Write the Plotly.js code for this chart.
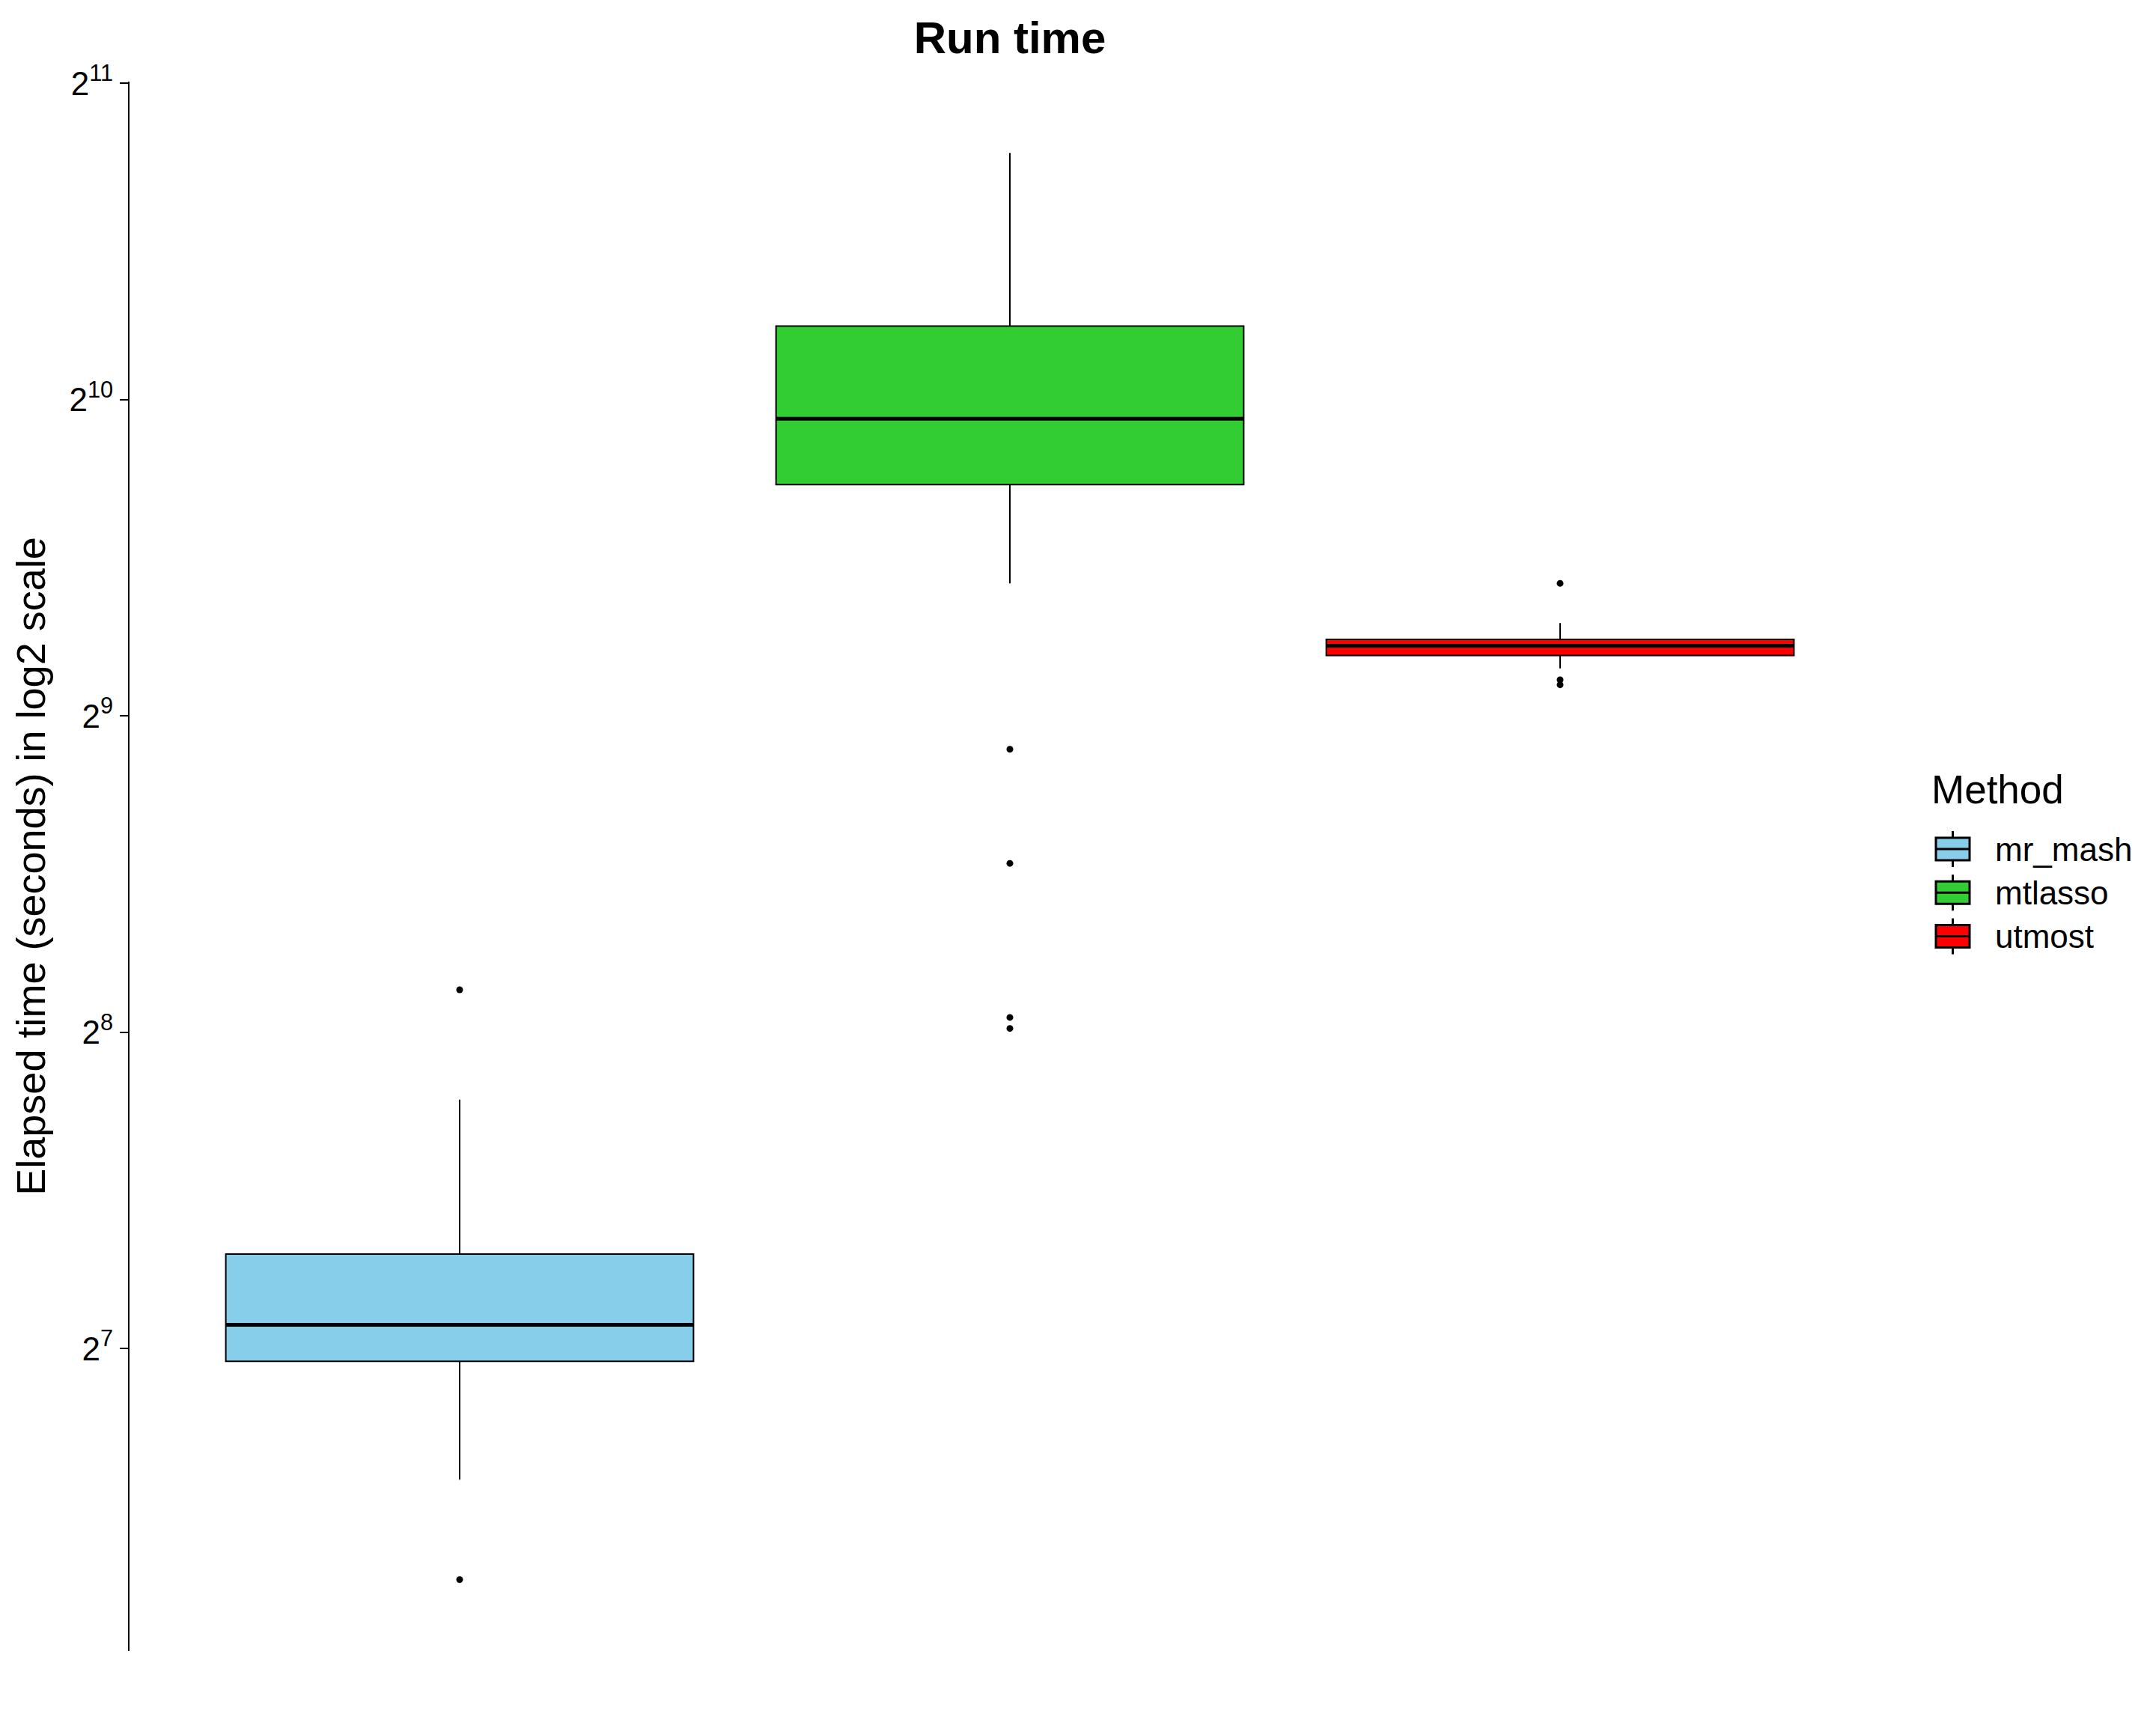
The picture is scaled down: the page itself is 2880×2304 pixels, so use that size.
<!DOCTYPE html>
<html>
<head>
<meta charset="utf-8">
<script src="https://cdn.plot.ly/plotly-3.0.1.min.js"></script>
<style>html,body{margin:0;padding:0;background:#fff;}</style>
</head>
<body>
<div id="chart" style="width:2880px;height:2304px;"></div>
<script>
// Data (elapsed time in seconds)
const categories = ["mr_mash", "mtlasso", "utmost"];
const lowerWhisker = [96.1, 684.6, 568.2];
const q1Values = [124.5, 850, 584.6];
const medianValues = [134.9, 982, 597.2];
const q3Values = [157.5, 1203, 605.6];
const upperWhisker = [220.9, 1758, 627.4];
const outliersMrMash = [281, 77.2];
const outliersMtlasso = [476, 370.7, 264.5, 258.2];
const outliersUtmost = [684.6, 554.2, 548.2];
const tickVals = [128, 256, 512, 1024, 2048];
const tickText = ["2<sup>7</sup>", "2<sup>8</sup>", "2<sup>9</sup>", "2<sup>10</sup>", "2<sup>11</sup>"];
const legendTitle = "Method";

const fills = ["#87CEEB", "#32CD32", "#FF0000"];
const outlierSets = [outliersMrMash, outliersMtlasso, outliersUtmost];
const boxWidth = 0.85;
const FONT = "Liberation Sans, Arial, Helvetica, sans-serif";

const W = 2880, H = 2304;
const M = {l: 173, r: 355, t: 109, b: 99};
const PW = W - M.l - M.r, PH = H - M.t - M.b;
const px2x = p => (p - M.l) / PW;
const py2y = p => (H - M.b - p) / PH;

const traces = [];
categories.forEach((c, i) => {
  traces.push({
    type: "box",
    name: c,
    x: [c],
    q1: [q1Values[i]],
    median: [medianValues[i]],
    q3: [q3Values[i]],
    lowerfence: [lowerWhisker[i]],
    upperfence: [upperWhisker[i]],
    fillcolor: fills[i],
    line: {color: "black", width: 2},
    whiskerwidth: 0,
    width: boxWidth,
    boxpoints: false,
    showlegend: false,
    hoverinfo: "skip"
  });
});
categories.forEach((c, i) => {
  traces.push({
    type: "scatter",
    mode: "markers",
    x: outlierSets[i].map(() => c),
    y: outlierSets[i],
    marker: {color: "black", size: 9},
    showlegend: false,
    hoverinfo: "skip"
  });
});

// thicker median lines (ggplot style)
const shapes = categories.map((c, i) => ({
  type: "line", xref: "x", yref: "y",
  x0: i - boxWidth / 2, x1: i + boxWidth / 2,
  y0: medianValues[i], y1: medianValues[i],
  line: {color: "black", width: 5}
}));

// ggplot-style legend: keys drawn with shapes, labels as annotations
const annotations = [];
const legLeft = 2586, keyW = 45, keyH = 30, stub = 9, rowStep = 58.3, firstRowY = 1134;
annotations.push({
  xref: "paper", yref: "paper", x: px2x(2578), y: py2y(1054),
  xanchor: "left", yanchor: "middle", showarrow: false,
  text: legendTitle, font: {family: FONT, size: 53, color: "black"}
});
categories.forEach((c, i) => {
  const cy = firstRowY + i * rowStep;
  const cx = legLeft + keyW / 2;
  shapes.push({type: "line", xref: "paper", yref: "paper",
    x0: px2x(cx), x1: px2x(cx), y0: py2y(cy - keyH / 2 - stub), y1: py2y(cy + keyH / 2 + stub),
    line: {color: "black", width: 3}});
  shapes.push({type: "rect", xref: "paper", yref: "paper",
    x0: px2x(legLeft), x1: px2x(legLeft + keyW), y0: py2y(cy - keyH / 2), y1: py2y(cy + keyH / 2),
    fillcolor: fills[i], line: {color: "black", width: 3}});
  shapes.push({type: "line", xref: "paper", yref: "paper",
    x0: px2x(legLeft), x1: px2x(legLeft + keyW), y0: py2y(cy), y1: py2y(cy),
    line: {color: "black", width: 3}});
  annotations.push({
    xref: "paper", yref: "paper", x: px2x(2663), y: py2y(cy),
    xanchor: "left", yanchor: "middle", showarrow: false,
    text: c, font: {family: FONT, size: 44, color: "black"}
  });
});

const layout = {
  width: W, height: H,
  paper_bgcolor: "white", plot_bgcolor: "white",
  font: {family: FONT, color: "black", size: 44},
  margin: M,
  title: {
    text: "<b>Run time</b>",
    font: {family: FONT, size: 60, color: "black"},
    x: 0.5, xref: "paper", xanchor: "center",
    y: 1 - 50 / H, yref: "container", yanchor: "middle"
  },
  boxmode: "overlay",
  showlegend: false,
  xaxis: {
    type: "category",
    range: [-0.6, 2.6],
    showline: false, showgrid: false, zeroline: false,
    showticklabels: false, ticks: ""
  },
  yaxis: {
    type: "log",
    range: [6.045 * Math.log10(2), 11.005 * Math.log10(2)],
    tickvals: tickVals,
    ticktext: tickText,
    tickfont: {family: FONT, size: 44, color: "black"},
    showline: true, linecolor: "black", linewidth: 2,
    ticks: "outside", ticklen: 11, tickwidth: 2, tickcolor: "black",
    showgrid: false, zeroline: false,
    automargin: false,
    title: {
      text: "Elapsed time (seconds) in log2 scale",
      font: {family: FONT, size: 54, color: "black"},
      standoff: 15
    }
  },
  shapes: shapes,
  annotations: annotations
};

Plotly.newPlot("chart", traces, layout, {displayModeBar: false, staticPlot: true});
</script>
</body>
</html>
